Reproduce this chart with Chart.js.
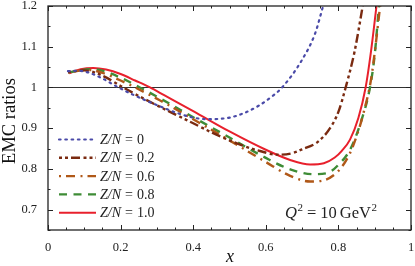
<!DOCTYPE html>
<html><head><meta charset="utf-8">
<script src="https://cdn.jsdelivr.net/npm/chart.js@4/dist/chart.umd.min.js"></script>
<style>html,body{margin:0;padding:0;background:#fff}#wrap{width:415px;height:266px;position:relative}</style>
</head><body><div id="wrap"><canvas id="c" width="415" height="266"></canvas></div>
<script>
// ---- data ----
const zOverN = ["0", "0.2", "0.6", "0.8", "1.0"];
const xZ0  = [0.055,0.08,0.11,0.15,0.19,0.23,0.27,0.31,0.36,0.4,0.44,0.5,0.54,0.58,0.62,0.645,0.7,0.736,0.758,0.775];
const yZ0  = [1.040,1.041,1.037,1.022,1.002,0.984,0.968,0.953,0.936,0.926,0.922,0.926,0.937,0.955,0.980,1.000,1.068,1.133,1.200,1.250];
const xZ02 = [0.055,0.1,0.15,0.203,0.25,0.3,0.35,0.4,0.45,0.5,0.55,0.584,0.63,0.67,0.7,0.744,0.777,0.8,0.82,0.845,0.867,0.877];
const yZ02 = [1.038,1.042,1.029,1.002,0.979,0.956,0.934,0.912,0.890,0.870,0.853,0.844,0.835,0.838,0.848,0.867,0.900,0.940,1.000,1.090,1.200,1.250];
const xZ06 = [0.055,0.11,0.15,0.2,0.24,0.309,0.4,0.5,0.6,0.667,0.722,0.76,0.8,0.83,0.85,0.87,0.89,0.902,0.915,0.922];
const yZ06 = [1.037,1.043,1.036,1.017,1.000,0.968,0.922,0.870,0.817,0.783,0.769,0.772,0.795,0.835,0.880,0.940,1.020,1.100,1.200,1.250];
const xZ08 = [0.055,0.12,0.15,0.2,0.253,0.309,0.4,0.5,0.6,0.667,0.73,0.77,0.8,0.832,0.86,0.887,0.9,0.912,0.92];
const yZ08 = [1.037,1.045,1.041,1.024,1.000,0.973,0.927,0.877,0.827,0.799,0.787,0.790,0.810,0.847,0.910,1.000,1.080,1.200,1.260];
const xZ10 = [0.058,0.09,0.125,0.16,0.2,0.24,0.281,0.32,0.4,0.5,0.6,0.667,0.722,0.76,0.79,0.81,0.832,0.855,0.875,0.89,0.905,0.912];
const yZ10 = [1.035,1.045,1.048,1.044,1.033,1.017,1.000,0.981,0.942,0.892,0.847,0.822,0.811,0.814,0.828,0.845,0.872,0.925,1.000,1.090,1.200,1.250];
const xTicks = [0, 0.2, 0.4, 0.6, 0.8, 1];
const yTicks = [0.7, 0.8, 0.9, 1.0, 1.1, 1.2];
const xRange = [0, 1];
const yRange = [0.65, 1.2];

const pts = (xs, ys) => xs.map((x, i) => ({x: x, y: ys[i]}));
const serif = "'Liberation Serif', 'DejaVu Serif', serif";

const styles = [
  {c: '#4a4aa8', w: 2.2, d: [1.6, 4.7], cap: 'round'},
  {c: '#7a2a10', w: 2.4, d: [3, 3, 3, 3, 9, 3.5], cap: 'butt'},
  {c: '#b05818', w: 2.4, d: [2, 5, 9, 5.5], cap: 'butt'},
  {c: '#3e8c36', w: 2.4, d: [8, 6.5], cap: 'butt'},
  {c: '#e8202c', w: 2.0, d: [], cap: 'butt'}
];
const series = [pts(xZ0,yZ0), pts(xZ02,yZ02), pts(xZ06,yZ06), pts(xZ08,yZ08), pts(xZ10,yZ10)];

const datasets = series.map((d, i) => ({
  label: 'Z/N = ' + zOverN[i],
  data: d,
  borderColor: styles[i].c,
  borderWidth: styles[i].w,
  borderDash: styles[i].d,
  borderCapStyle: styles[i].cap,
  pointRadius: 0,
  fill: false,
  cubicInterpolationMode: 'monotone',
  clip: 0
}));

const decor = {
  id: 'decor',
  beforeDatasetsDraw(chart) {
    const ctx = chart.ctx, a = chart.chartArea, ys = chart.scales.y;
    const y1 = ys.getPixelForValue(1.0);
    ctx.save();
    ctx.strokeStyle = '#333'; ctx.lineWidth = 1;
    ctx.beginPath(); ctx.moveTo(a.left, Math.round(y1) + 0.5); ctx.lineTo(a.right, Math.round(y1) + 0.5); ctx.stroke();
    ctx.restore();
  },
  afterDraw(chart) {
    const ctx = chart.ctx, a = chart.chartArea, xs = chart.scales.x, ys = chart.scales.y;
    ctx.save();
    ctx.strokeStyle = '#222'; ctx.lineWidth = 1.3;
    ctx.strokeRect(a.left, a.top, a.right - a.left, a.bottom - a.top);
    ctx.lineWidth = 1;
    for (let i = 0; i <= 20; i++) {
      const v = i * 0.05;
      const px = Math.round(xs.getPixelForValue(v)) + 0.5;
      const L = (i % 4 === 0) ? 5 : 2.5;
      ctx.beginPath();
      ctx.moveTo(px, a.bottom); ctx.lineTo(px, a.bottom - L);
      ctx.moveTo(px, a.top); ctx.lineTo(px, a.top + L);
      ctx.stroke();
    }
    for (let i = 0; i <= 11; i++) {
      const v = 0.65 + i * 0.05;
      const py = Math.round(ys.getPixelForValue(v)) + 0.5;
      const L = (i % 2 === 1) ? 5 : 2.5;
      ctx.beginPath();
      ctx.moveTo(a.left, py); ctx.lineTo(a.left + L, py);
      ctx.moveTo(a.right, py); ctx.lineTo(a.right - L, py);
      ctx.stroke();
    }
    // axis titles
    ctx.fillStyle = '#111';
    ctx.font = "18.5px " + serif;
    ctx.textAlign = 'center'; ctx.textBaseline = 'middle';
    ctx.save();
    ctx.translate(10, (a.top + a.bottom) / 2 + 3);
    ctx.rotate(-Math.PI / 2);
    ctx.fillText('EMC ratios', 0, 0);
    ctx.restore();
    ctx.font = "italic 18px " + serif;
    ctx.fillText('x', 230, 257);
    // legend
    const lx0 = 59, lx1 = 96, tx = 100, ly0 = 139.5, dy = 18.3;
    chart.data.datasets.forEach((ds, i) => {
      const y = ly0 + i * dy;
      ctx.save();
      ctx.strokeStyle = ds.borderColor; ctx.lineWidth = ds.borderWidth;
      ctx.setLineDash(ds.borderDash); ctx.lineCap = ds.borderCapStyle;
      ctx.beginPath(); ctx.moveTo(lx0, y); ctx.lineTo(lx1, y); ctx.stroke();
      ctx.restore();
      const parts = ds.label.split(' = ');
      ctx.textAlign = 'left'; ctx.textBaseline = 'middle'; ctx.fillStyle = '#222';
      ctx.font = "italic 14px " + serif;
      ctx.fillText(parts[0], tx, y + 1);
      let x = tx + ctx.measureText(parts[0]).width + 4;
      ctx.font = "14px " + serif;
      ctx.fillText('=', x, y + 1);
      x += ctx.measureText('=').width + 4;
      ctx.fillText(parts[1], x, y + 1);
    });
    // Q^2 annotation
    const base = 218;
    ctx.textBaseline = 'alphabetic'; ctx.textAlign = 'left';
    let qx = 285;
    ctx.font = "italic 16.5px " + serif; ctx.fillText('Q', qx, base); qx += ctx.measureText('Q').width + 0.5;
    ctx.font = "11px " + serif; ctx.fillText('2', qx, base - 7); qx += ctx.measureText('2').width + 4;
    ctx.font = "16.5px " + serif; ctx.fillText('=', qx, base); qx += ctx.measureText('=').width + 4;
    ctx.fillText('10', qx, base); qx += ctx.measureText('10').width + 3;
    ctx.fillText('GeV', qx, base); qx += ctx.measureText('GeV').width + 0.5;
    ctx.font = "11px " + serif; ctx.fillText('2', qx, base - 7);
    ctx.restore();
  }
};

new Chart(document.getElementById('c'), {
  type: 'line',
  data: {datasets: datasets},
  options: {
    responsive: false,
    animation: false,
    layout: {padding: {top: 6, right: 4, left: 0, bottom: 0}},
    plugins: {legend: {display: false}, tooltip: {enabled: false}},
    scales: {
      x: {
        type: 'linear', min: xRange[0], max: xRange[1],
        afterBuildTicks: s => { s.ticks = xTicks.map(v => ({value: v})); },
        afterFit: s => { s.height = 36; s.paddingLeft = 0; s.paddingRight = 0; s.paddingTop = 0; s.paddingBottom = 0; },
        grid: {display: false, drawTicks: false},
        border: {display: false},
        ticks: {padding: 10, color: '#222', font: {family: serif, size: 12.5},
                callback: v => (v === 0 || v === 1) ? String(v) : v.toFixed(1)}
      },
      y: {
        type: 'linear', min: yRange[0], max: yRange[1],
        afterBuildTicks: s => { s.ticks = yTicks.map(v => ({value: v})); },
        afterFit: s => { s.width = 48; s.paddingLeft = 0; s.paddingRight = 0; s.paddingTop = 0; s.paddingBottom = 0; },
        grid: {display: false, drawTicks: false},
        border: {display: false},
        ticks: {padding: 11, color: '#222', font: {family: serif, size: 12.5},
                callback: v => Math.abs(v - 1) < 1e-9 ? '1' : v.toFixed(1)}
      }
    }
  },
  plugins: [decor]
});
</script></body></html>
